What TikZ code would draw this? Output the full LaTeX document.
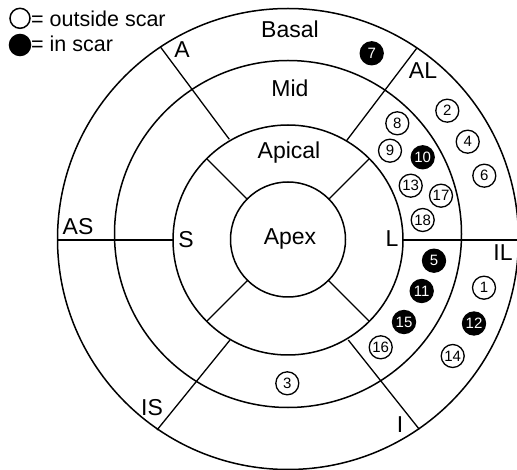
\documentclass[tikz,border=0pt]{standalone}
\usepackage{fontspec}
\setmainfont{Liberation Sans}
\begin{document}
\begin{tikzpicture}[x=1pt,y=-1pt,
  ring/.style={line width=1.5pt},
  sepline/.style={line width=1.3pt},
  lab/.style={font=\fontsize{23}{23}\selectfont, anchor=base, inner sep=0pt},
  legtext/.style={font=\fontsize{21.5}{21.5}\selectfont, anchor=base west, inner sep=0pt},
  num/.style={circle, draw, line width=1.3pt, minimum size=23pt, inner sep=0pt, font=\fontsize{15}{15}\selectfont},
  scar/.style={num, fill=black, text=white},
  legcirc/.style={circle, draw, line width=1.5pt, inner sep=0pt}
]
\useasboundingbox (0,0) rectangle (517,470);
% rings
\draw[ring] (288,239) circle[radius=230.5pt];
\draw[ring] (288,234) circle[radius=173.5pt];
\draw[ring] (288,240) circle[radius=115pt];
\draw[ring] (288,239.5) circle[radius=57.5pt];
% basal/mid separators
\coordinate (aO) at (160.7,47.3);  \coordinate (aI) at (229.3,139.3);
\coordinate (alO) at (416.7,48.3); \coordinate (alI) at (346.4,140.9);
\coordinate (isO) at (157,430);    \coordinate (isI) at (230,340);
\coordinate (iO) at (419.3,429.3); \coordinate (iI) at (348.3,340);
\coordinate (asO) at (57,240);     \coordinate (asI) at (173,240);
\coordinate (ilO) at (517,240);    \coordinate (ilI) at (403,240);
\draw[sepline] (aO) -- (aI);
\draw[sepline] (alO) -- (alI);
\draw[sepline] (isO) -- (isI);
\draw[sepline] (iO) -- (iI);
\draw[sepline] (asO) -- (asI);
\draw[sepline] (ilO) -- (ilI);
% apical separators
\coordinate (ulI) at (247.3,199.3); \coordinate (ulO) at (206.7,158.7);
\coordinate (urI) at (328.7,199.3); \coordinate (urO) at (369.3,158.7);
\coordinate (llI) at (247.3,280.7); \coordinate (llO) at (206.7,321.3);
\coordinate (lrI) at (328.7,280.7); \coordinate (lrO) at (369.3,321.3);
\draw[sepline] (ulI) -- (ulO);
\draw[sepline] (urI) -- (urO);
\draw[sepline] (llI) -- (llO);
\draw[sepline] (lrI) -- (lrO);
% ring labels
\node[lab] (basal) at (290,38) {Basal};
\node[lab] (mid) at (290,97) {Mid};
\node[lab] (apical) at (289,159) {Apical};
\node[lab] (apex) at (290,245) {Apex};
% segment labels
\node[lab] (lA) at (182,58) {A};
\node[lab] (lAL) at (423,79) {AL};
\node[lab] (lAS) at (78,235) {AS};
\node[lab] (lS) at (186,248) {S};
\node[lab] (lL) at (392,247) {L};
\node[lab] (lIL) at (503,261) {IL};
\node[lab] (lIS) at (152,415) {IS};
\node[lab] (lI) at (400,432) {I};
% numbered sites
\node[num]  (n1)  at (484,287.7) {1};
\node[num]  (n2)  at (447.3,110.7) {2};
\node[num]  (n3)  at (287.3,383.3) {3};
\node[num]  (n4)  at (467.7,141.7) {4};
\node[scar] (n5)  at (434,260.7) {5};
\node[num]  (n6)  at (484.3,175.7) {6};
\node[scar] (n7)  at (371.7,53.3) {7};
\node[num]  (n8)  at (397.3,123.3) {8};
\node[num]  (n9)  at (390,150.7) {9};
\node[scar] (n10) at (422.7,157.3) {10};
\node[scar] (n11) at (421.7,291) {11};
\node[scar] (n12) at (474,323.5) {12};
\node[num]  (n13) at (410.7,185.7) {13};
\node[num]  (n14) at (452.7,356) {14};
\node[scar] (n15) at (404,322) {15};
\node[num]  (n16) at (380.7,347.3) {16};
\node[num]  (n17) at (441,195.7) {17};
\node[num]  (n18) at (422.7,220) {18};
% legend
\node[legcirc, minimum size=20pt] (legO) at (20,18.3) {};
\node[legcirc, minimum size=21pt, fill=black] (legF) at (20,45) {};
\node[legtext] (legOt) at (31,27) {= outside scar};
\node[legtext] (legFt) at (31,51.7) {= in scar};
\end{tikzpicture}
\end{document}
